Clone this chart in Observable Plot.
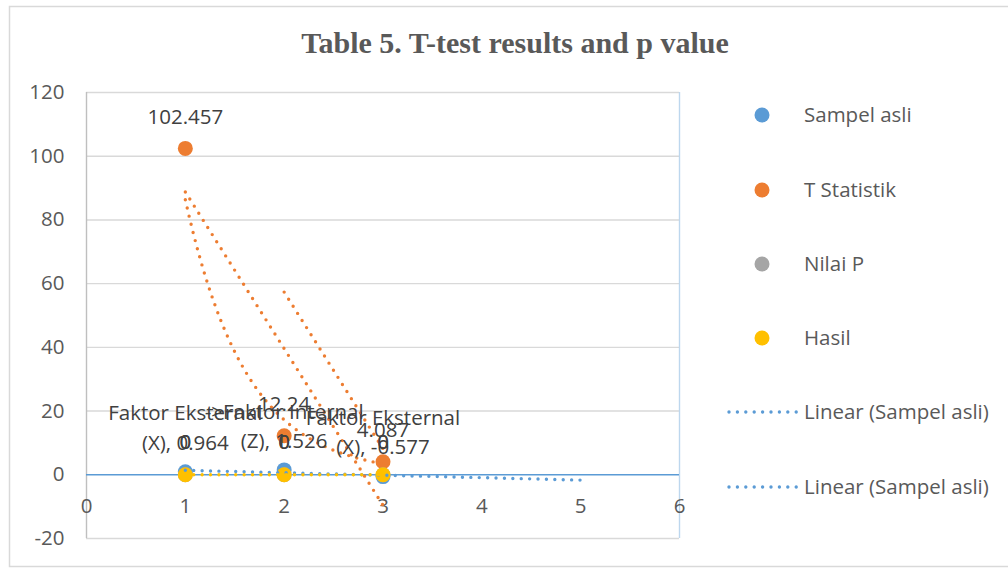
<!DOCTYPE html>
<html><head><meta charset="utf-8">
<script src="https://cdn.jsdelivr.net/npm/d3@7"></script>
<script src="https://cdn.jsdelivr.net/npm/@observablehq/plot@0.6"></script>
<style>
body{margin:0;background:#fff}
#chart{position:relative;width:1008px;height:569px;overflow:hidden}
</style>
</head><body><div id="chart"></div>
<script>
// ---- data ----
const categories = ["Faktor Eksternal (X)", "->Faktor Internal (Z)", "Faktor Eksternal (X)"];
const xValues = [1, 2, 3];
const sampelAsli = [0.964, 1.526, -0.577];
const tStatistik = [102.457, 12.24, 4.087];
const nilaiP = [0, 0, 0];
const hasil = [0, 0, 0];
const yTicks = [-20, 0, 20, 40, 60, 80, 100, 120];
const xTicks = [0, 1, 2, 3, 4, 5, 6];
const seriesNames = ["Sampel asli", "T Statistik", "Nilai P", "Hasil"];
const legendLineNames = ["Linear (Sampel asli)", "Linear (Sampel asli)"];
const titleText = "Table 5. T-test results and p value";

// ---- style ----
const C = {blue: "#5b9bd5", orange: "#ed7d31", gray: "#a5a5a5", yellow: "#ffc000"};
const seriesColors = [C.blue, C.orange, C.gray, C.yellow];
const FONT = "'Open Sans', 'Noto Sans', sans-serif";

// ---- trendlines (fitted from the data) ----
function linFit(xs, ys) {
  const n = xs.length, mx = d3.mean(xs), my = d3.mean(ys);
  let sxy = 0, sxx = 0;
  for (let i = 0; i < n; i++) { sxy += (xs[i]-mx)*(ys[i]-my); sxx += (xs[i]-mx)**2; }
  const b = sxy / sxx; return {b, a: my - b*mx};
}
const fSA = linFit(xValues, sampelAsli);
const trendSA = [1, 5].map(x => ({x, y: fSA.a + fSA.b*x})); // forward forecast 2
const fTL = linFit(xValues, tStatistik);
const trendTL = [1, 3].map(x => ({x, y: fTL.a + fTL.b*x}));
const fTE = linFit(xValues, tStatistik.map(Math.log));
const trendTE = d3.range(1, 3.0001, 0.04).map(x => ({x, y: Math.exp(fTE.a + fTE.b*x)}));
const trendTM = xValues.slice(1).map((x, i) => ({x, y: (tStatistik[i] + tStatistik[i+1]) / 2}));
const fH = linFit(xValues, hasil);
const trendH = [1, 3].map(x => ({x, y: fH.a + fH.b*x}));

const pts = (ys) => xValues.map((x, i) => ({x, y: ys[i], cat: categories[i]}));
const wrapLabel = (c, v) => c.replace(" (", "\n(") + ", " + v;

const dotStyle = {stroke: null, r: 7.5};
const trendStyle = {strokeWidth: 3.4, strokeDasharray: "0 8.4", strokeLinecap: "round"};
const labelSize = 20.5;

const plot = Plot.plot({
  width: 1008, height: 569,
  marginLeft: 86, marginRight: 329, marginTop: 92, marginBottom: 31,
  x: {domain: [0, 6], axis: null},
  y: {domain: [-20, 120], axis: null},
  style: {fontFamily: FONT, fontSize: "20px", background: "#fff", overflow: "visible"},
  marks: [
    Plot.ruleY(yTicks.filter(t => t > 0), {stroke: "#d9d9d9", strokeWidth: 1.4, strokeOpacity: 1}),
    Plot.ruleY([-20], {stroke: "#d9d9d9", strokeWidth: 1.4, strokeOpacity: 1}),
    Plot.ruleX([0], {stroke: "#bfbfbf", strokeWidth: 1.4, strokeOpacity: 1}),
    Plot.ruleX([6], {stroke: "#bdd7ee", strokeWidth: 1.4, strokeOpacity: 1}),
    Plot.ruleY([0], {stroke: C.blue, strokeWidth: 1.6, strokeOpacity: 1}),
    Plot.axisY(yTicks, {tickSize: 0, tickPadding: 22, fontSize: 20.5, color: "#595959", label: null, tickFormat: d => String(d)}),
    Plot.text(xTicks, {x: d => d, y: 0, dy: 32, text: d => String(d), fontSize: 20.5, fill: "#595959"}),
    Plot.dot(pts(sampelAsli), {x: "x", y: "y", fill: seriesColors[0], ...dotStyle}),
    Plot.dot(pts(tStatistik), {x: "x", y: "y", fill: seriesColors[1], ...dotStyle}),
    Plot.dot(pts(nilaiP), {x: "x", y: "y", fill: seriesColors[2], ...dotStyle}),
    Plot.dot(pts(hasil), {x: "x", y: "y", fill: seriesColors[3], ...dotStyle}),
    Plot.line(trendSA, {x: "x", y: "y", stroke: C.blue, ...trendStyle}),
    Plot.line(trendTL, {x: "x", y: "y", stroke: C.orange, ...trendStyle}),
    Plot.line(trendTE, {x: "x", y: "y", stroke: C.orange, ...trendStyle}),
    Plot.line(trendTM, {x: "x", y: "y", stroke: C.orange, ...trendStyle}),
    Plot.line(trendH, {x: "x", y: "y", stroke: C.yellow, ...trendStyle}),
    Plot.text(pts(sampelAsli), {x: "x", y: "y", text: d => wrapLabel(d.cat, d.y), dy: -46, lineHeight: 1.42, fontSize: labelSize, fill: "#404040"}),
    Plot.text(pts(tStatistik), {x: "x", y: "y", text: d => String(d.y), dy: -31, fontSize: labelSize, fill: "#404040"}),
    Plot.text(pts(nilaiP), {x: "x", y: "y", text: d => String(d.y), dy: -32, fontSize: labelSize, fill: "#404040"}),
    Plot.text(pts(hasil), {x: "x", y: "y", text: d => String(d.y), dy: -32, fontSize: labelSize, fill: "#404040"})
  ]
});
document.getElementById("chart").appendChild(plot);

// ---- chart border, title, legend ----
const svg = d3.select(plot);
svg.insert("rect", ":first-child")
  .attr("x", 9.5).attr("y", 6.5).attr("width", 1010).attr("height", 560)
  .attr("fill", "#fff").attr("stroke", "#d9d9d9").attr("stroke-width", 1.5);
svg.append("text").text(titleText)
  .attr("x", 515).attr("y", 53).attr("text-anchor", "middle")
  .attr("font-family", "'Liberation Serif', 'Times New Roman', serif")
  .attr("font-weight", "bold").attr("font-size", 30).attr("fill", "#595959");

const lg = svg.append("g").attr("font-family", FONT).attr("font-size", 20.5)
  .attr("fill", "#595959").attr("text-anchor", "start");
const rowY = [115, 190, 264, 338, 412, 487];
seriesNames.forEach((name, i) => {
  lg.append("circle").attr("cx", 762).attr("cy", rowY[i]).attr("r", 7.5).attr("fill", seriesColors[i]);
  lg.append("text").attr("x", 804).attr("y", rowY[i]).attr("dy", "0.35em").text(name);
});
legendLineNames.forEach((name, j) => {
  const y = rowY[4 + j];
  lg.append("line").attr("x1", 729).attr("x2", 797).attr("y1", y).attr("y2", y)
    .attr("stroke", C.blue).attr("stroke-width", 3.4).attr("stroke-dasharray", "0 8.4").attr("stroke-linecap", "round");
  lg.append("text").attr("x", 804).attr("y", y).attr("dy", "0.35em").text(name);
});
</script>
</body></html>
